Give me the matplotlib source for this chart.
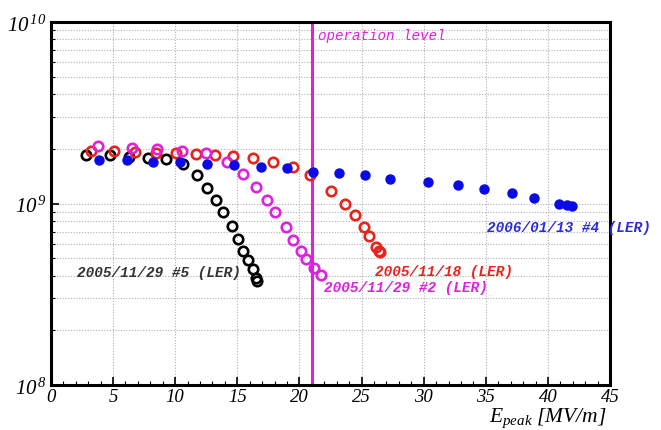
import numpy as np
import matplotlib
matplotlib.use('Agg')
import matplotlib.pyplot as plt
from matplotlib.ticker import MultipleLocator, LogLocator, FixedLocator, FixedFormatter, NullFormatter

plt.rcParams['mathtext.fontset'] = 'custom'
plt.rcParams['mathtext.rm'] = 'Liberation Serif:italic'
plt.rcParams['mathtext.it'] = 'Liberation Serif:italic'

# 2005/11/29 #5 (LER) - black, open
e_black = [2.8, 4.75, 6.3, 7.8, 9.25, 10.6, 11.75, 12.55, 13.3, 13.85, 14.55, 15.05, 15.45, 15.85, 16.25, 16.5, 16.6]
q_black = [1.86e9, 1.84e9, 1.81e9, 1.77e9, 1.75e9, 1.64e9, 1.43e9, 1.22e9, 1.05e9, 9.0e8, 7.5e8, 6.4e8, 5.5e8, 4.87e8, 4.34e8, 3.87e8, 3.73e8]

# 2005/11/18 (LER) - red, open
e_red = [3.2, 5.05, 6.75, 8.45, 10.05, 11.65, 13.2, 14.65, 16.25, 17.85, 19.5, 20.85, 22.55, 23.65, 24.5, 25.2, 25.6, 26.2, 26.4, 26.5]
q_red = [1.94e9, 1.94e9, 1.92e9, 1.89e9, 1.89e9, 1.87e9, 1.84e9, 1.82e9, 1.78e9, 1.69e9, 1.58e9, 1.43e9, 1.17e9, 9.9e8, 8.6e8, 7.4e8, 6.6e8, 5.75e8, 5.5e8, 5.4e8]

# 2005/11/29 #2 (LER) - magenta, open
e_mag = [3.8, 6.5, 8.5, 10.55, 12.5, 14.15, 15.45, 16.5, 17.4, 18.05, 18.9, 19.5, 20.15, 20.55, 21.2, 21.75]
q_mag = [2.07e9, 2.01e9, 1.99e9, 1.95e9, 1.89e9, 1.69e9, 1.45e9, 1.23e9, 1.04e9, 8.96e8, 7.4e8, 6.3e8, 5.5e8, 4.93e8, 4.4e8, 4.02e8]

# 2006/01/13 #4 (LER) - blue, filled
e_blue = [3.85, 6.1, 8.2, 10.4, 12.55, 14.75, 16.9, 19.0, 21.1, 23.2, 25.3, 27.3, 30.35, 32.75, 34.85, 37.1, 38.9, 40.9, 41.55, 41.9]
q_blue = [1.73e9, 1.73e9, 1.69e9, 1.69e9, 1.66e9, 1.62e9, 1.58e9, 1.56e9, 1.50e9, 1.48e9, 1.43e9, 1.37e9, 1.31e9, 1.26e9, 1.20e9, 1.14e9, 1.07e9, 1.00e9, 9.77e8, 9.65e8]

op_level = 21.0

fig = plt.figure(figsize=(6.61, 4.31), dpi=100)
ax = fig.add_axes([0.077, 0.104, 0.846, 0.843])

ax.set_xlim(0, 45)
ax.set_yscale('log')
ax.set_ylim(1e8, 1e10)

# grid
gkw = dict(color='#b0b0b0', lw=0.8, ls=(0, (1, 1.5)))
ax.xaxis.set_major_locator(MultipleLocator(5))
ax.xaxis.set_minor_locator(MultipleLocator(1))
ax.yaxis.set_major_locator(FixedLocator([1e8, 1e9, 1e10]))
ax.yaxis.set_minor_locator(LogLocator(base=10, subs=np.arange(2, 10)))
ax.yaxis.set_major_formatter(FixedFormatter([r'$10^{\,8}$', r'$10^{\,9}$', r'$10^{\,10}$']))
ax.yaxis.set_minor_formatter(NullFormatter())
ax.grid(True, which='major', axis='x', **gkw)
ax.grid(True, which='both', axis='y', **gkw)
ax.set_axisbelow(True)

ax.axvline(op_level, color='#e020e0', lw=2.2, zorder=2)
ax.text(op_level + 0.5, 8.5e9, 'operation level', color='#e020e0',
        family='Liberation Mono', style='italic', fontsize=10.3, va='center')

okw = dict(ls='none', marker='o', markersize=6.8, mew=1.9, mfc='none', zorder=3)
ax.plot(e_black, q_black, mec='black', **okw)
ax.plot(e_red, q_red, mec='#e8231c', **okw)
ax.plot(e_mag, q_mag, mec='#e020e0', **okw)
ax.plot(e_blue, q_blue, ls='none', marker='o', markersize=6.5, color='#0a0ae6', zorder=4)

tkw = dict(family='Liberation Mono', style='italic', fontweight='bold', fontsize=10.4,
           va='center', ha='left')
ax.text(2.1, 4.2e8, '2005/11/29 #5 (LER)', color='#333333', **tkw)
ax.text(26.1, 4.25e8, '2005/11/18 (LER)', color='#e8231c', **tkw)
ax.text(22.0, 3.45e8, '2005/11/29 #2 (LER)', color='#e020e0', **tkw)
ax.text(35.1, 7.45e8, '2006/01/13 #4 (LER)', color='#2a2ae0', clip_on=False, **tkw)

for s in ax.spines.values():
    s.set_linewidth(2.2)
ax.tick_params(which='both', direction='in', top=False, right=False)
ax.tick_params(which='major', length=6, width=1.2)
ax.tick_params(which='minor', length=3, width=0.8)
ax.tick_params(axis='x', labelsize=13.5, pad=2)
ax.tick_params(axis='y', labelsize=15, pad=3)
for lab in ax.get_xticklabels():
    lab.set_family('Liberation Serif')
    lab.set_style('italic')

ax.set_xlabel(r'$E_{peak}\ [MV/m]$', fontsize=15.5)
ax.xaxis.set_label_coords(0.918, 0.003, transform=fig.transFigure)
ax.xaxis.label.set_ha('right')
ax.xaxis.label.set_va('bottom')

fig.savefig('out.png', dpi=100)
